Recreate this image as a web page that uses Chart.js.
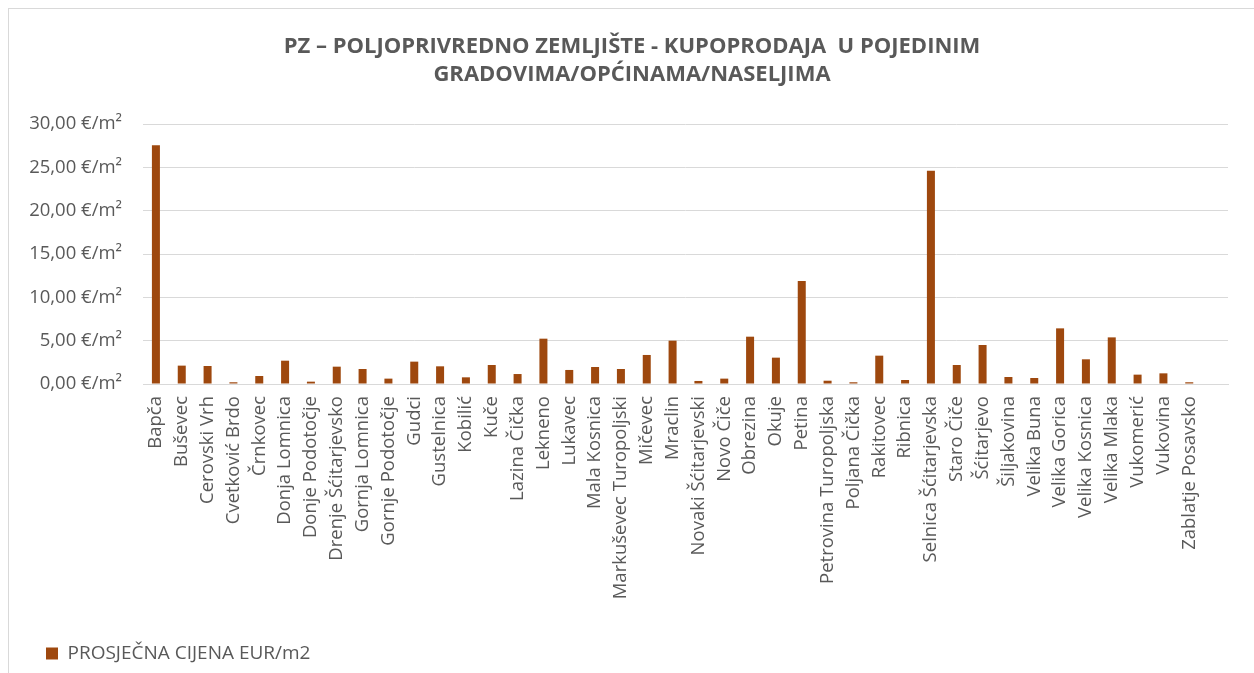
<!DOCTYPE html>
<html>
<head>
<meta charset="utf-8">
<script src="https://cdn.jsdelivr.net/npm/chart.js@4/dist/chart.umd.min.js"></script>
<style>
  html, body { margin: 0; padding: 0; background: #fff; overflow: hidden; }
  #wrap { position: relative; width: 1254px; height: 673px; }
  #frame { position: absolute; left: 8px; top: 8px; width: 2000px; height: 2000px; border: 1px solid #D9D9D9; box-sizing: border-box; }
  canvas { position: absolute; left: 0; top: 0; }
</style>
</head>
<body>
<div id="wrap">
  <div id="frame"></div>
  <canvas id="c" width="1254" height="673"></canvas>
</div>
<script>
const categories = [
  'Bapča', 'Buševec', 'Cerovski Vrh', 'Cvetković Brdo', 'Črnkovec', 'Donja Lomnica',
  'Donje Podotočje', 'Drenje Šćitarjevsko', 'Gornja Lomnica', 'Gornje Podotočje', 'Gudci',
  'Gustelnica', 'Kobilić', 'Kuče', 'Lazina Čička', 'Lekneno', 'Lukavec', 'Mala Kosnica',
  'Markuševec Turopoljski', 'Mičevec', 'Mraclin', 'Novaki Šćitarjevski', 'Novo Čiče',
  'Obrezina', 'Okuje', 'Petina', 'Petrovina Turopoljska', 'Poljana Čička', 'Rakitovec',
  'Ribnica', 'Selnica Šćitarjevska', 'Staro Čiče', 'Šćitarjevo', 'Šiljakovina', 'Velika Buna',
  'Velika Gorica', 'Velika Kosnica', 'Velika Mlaka', 'Vukomerić', 'Vukovina', 'Zablatje Posavsko',
  ''
];
const prosjecnaCijena = [
  27.55, 2.12, 2.08, 0.2, 0.92, 2.69,
  0.27, 2.00, 1.73, 0.62, 2.58,
  2.04, 0.77, 2.19, 1.15, 5.23, 1.62, 1.96,
  1.73, 3.35, 5.00, 0.35, 0.62,
  5.46, 3.04, 11.88, 0.38, 0.2, 3.27,
  0.46, 24.62, 2.19, 4.50, 0.81, 0.69,
  6.42, 2.85, 5.38, 1.08, 1.23, 0.2,
  null
];
const yTickLabels = ['0,00 €/m²', '5,00 €/m²', '10,00 €/m²', '15,00 €/m²', '20,00 €/m²', '25,00 €/m²', '30,00 €/m²'];
const seriesName = 'PROSJEČNA CIJENA EUR/m2';
const titleLines = ['PZ – POLJOPRIVREDNO ZEMLJIŠTE - KUPOPRODAJA  U POJEDINIM', 'GRADOVIMA/OPĆINAMA/NASELJIMA'];

const textColor = '#595959';
const gridColor = '#D9D9D9';
const barColor = '#9E480E';
const fam = '"Open Sans", sans-serif';

const titleNudge = {
  id: 'titleNudge',
  afterLayout(chart) {
    if (chart.titleBlock) { chart.titleBlock.left += 16; }
  }
};

new Chart(document.getElementById('c'), {
  type: 'bar',
  data: {
    labels: categories,
    datasets: [{
      label: seriesName,
      data: prosjecnaCijena,
      backgroundColor: barColor,
      borderWidth: 0,
      categoryPercentage: 1,
      barPercentage: 0.31
    }]
  },
  plugins: [titleNudge],
  options: {
    responsive: false,
    animation: false,
    devicePixelRatio: 1,
    layout: { padding: { left: 20, right: 26, top: 0, bottom: 0 } },
    plugins: {
      title: {
        display: true,
        text: titleLines,
        color: textColor,
        font: { family: fam, size: 22, weight: 'bold', lineHeight: '28px' },
        padding: { top: 33, bottom: 35 }
      },
      legend: {
        display: true,
        position: 'bottom',
        align: 'start',
        labels: {
          color: textColor,
          font: { family: fam, size: 19 },
          boxWidth: 12,
          boxHeight: 12,
          padding: 26
        }
      },
      tooltip: { enabled: false }
    },
    scales: {
      x: {
        grid: { display: false, drawTicks: false },
        border: { display: true, color: gridColor, width: 1 },
        ticks: {
          autoSkip: false,
          minRotation: 90,
          maxRotation: 90,
          padding: 12,
          color: textColor,
          font: { family: fam, size: 18.5 }
        },
        afterFit: (scale) => { scale.height = 234; }
      },
      y: {
        min: 0,
        max: 30,
        grid: { color: gridColor, lineWidth: 1, drawTicks: false },
        border: { display: false },
        ticks: {
          stepSize: 5,
          padding: 21,
          color: textColor,
          font: { family: fam, size: 18.5 },
          callback: (value, index) => yTickLabels[index]
        },
        afterFit: (scale) => { scale.width = 123; }
      }
    }
  }
});
</script>
</body>
</html>
